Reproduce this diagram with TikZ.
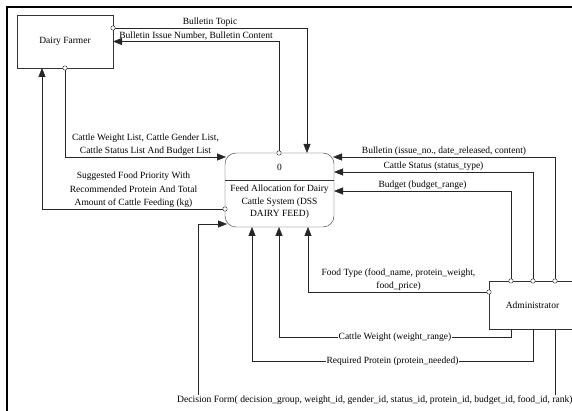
\documentclass[tikz,border=0pt]{standalone}
\usepackage{fontspec}
\setmainfont{Liberation Serif}
\usepackage{tikz}
\usetikzlibrary{arrows.meta,positioning,calc}
\newcommand{\lblfont}{\fontsize{9.5}{13.5}\selectfont}
\tikzset{
  ent/.style={draw=black!80, inner sep=0pt, outer sep=0pt, font=\lblfont},
  procbox/.style={ent, rounded corners=11pt},
  lbl/.style={font=\lblfont, inner sep=1pt, align=center},
  flow/.style={draw=black!85, -{Triangle[length=9pt,width=7pt]}},
  port/.style={circle, draw=black!85, fill=white, inner sep=0pt, minimum size=4.4pt},
  frame/.style={line width=1.6pt},
}
\begin{document}
\begin{tikzpicture}[x=1pt, y=-1pt]
\useasboundingbox (0,0) rectangle (572,411);
\draw[frame] (7,7) rectangle (620,440);
% entities and process
\node[ent, minimum width=96pt, minimum height=53pt] (farmer) at (65,41.5) {Dairy Farmer};
\node[ent, minimum width=87pt, minimum height=48pt] (admin) at (532.5,305) {Administrator};
\node[procbox, minimum width=109pt, minimum height=74pt] (proc) at (279.5,190) {};
\node[lbl] (procid) at ($(proc.north)+(0,14)$) {0};
\draw[draw=black!80] ($(proc.north west)+(0,27)$) -- ($(proc.north east)+(0,27)$);
\node[lbl, font=\fontsize{9.5}{12.5}\selectfont] (procname) at ($(proc.north)+(0,49)$) {Feed Allocation for Dairy\\Cattle System (DSS\\DAIRY FEED)};
% farmer flows
\draw[flow] ($(farmer.north east)+(0,13)$) node[port]{} -| node[lbl, above, pos=0.25] (topicl) {Bulletin Topic} ($(proc.north west)+(82,0)$);
\draw[flow] ($(proc.north west)+(54,0)$) node[port]{} |- node[lbl, above, pos=0.75] (issuel) {Bulletin Issue Number, Bulletin Content} (farmer.east);
\draw[flow] (farmer.south) node[port]{} |- node[lbl, above, pos=0.75] (listl) {Cattle Weight List, Cattle Gender List,\\Cattle Status List And Budget List} ($(proc.north west)+(1,4)$);
\draw[flow] ($(proc.north west)+(0,56)$) node[port]{} -| node[lbl, above, pos=0.25] (suggl) {Suggested Food Priority With\\Recommended Protein And Total\\Amount of Cattle Feeding (kg)} ($(farmer.south west)+(25,0)$);
% administrator flows
\draw[flow] ($(admin.north west)+(66,0)$) node[port]{} |- node[lbl, above, pos=0.75] (bulll) {Bulletin (issue\_no., date\_released, content)} ($(proc.north east)+(-1,4)$);
\draw[flow] ($(admin.north west)+(44,0)$) node[port]{} |- node[lbl, above, pos=0.75] (statl) {Cattle Status (status\_type)} ($(proc.north east)+(0,19)$);
\draw[flow] ($(admin.north west)+(22,0)$) node[port]{} |- node[lbl, above, pos=0.75] (budgl) {Budget (budget\_range)} ($(proc.north east)+(0,38)$);
\draw[flow] ($(admin.north west)+(0,11)$) node[port]{} -| node[lbl, above, pos=0.25] (foodl) {Food Type (food\_name, protein\_weight,\\food\_price)} ($(proc.south west)+(83,0)$);
\draw[flow] ($(admin.south west)+(22,0)$) -- ++(0,8) -| node[lbl, fill=white, pos=0.25] (weightl) {Cattle Weight (weight\_range)} ($(proc.south west)+(54,0)$);
\draw[flow] ($(admin.south west)+(44,0)$) -- ++(0,32) -| node[lbl, fill=white, pos=0.25] (protl) {Required Protein (protein\_needed)} ($(proc.south west)+(27,0)$);
\draw[flow] ($(admin.south west)+(66,0)$) -- ++(0,71) -- node[lbl, fill=white, pos=1, anchor=west, xshift=-22pt, font=\fontsize{9.62}{12}\selectfont] (decl) {Decision Form( decision\_group, weight\_id, gender\_id, status\_id, protein\_id, budget\_id, food\_id, rank)} ++(-357,0) |- ($(proc.south west)+(2,-3)$);
\end{tikzpicture}
\end{document}
